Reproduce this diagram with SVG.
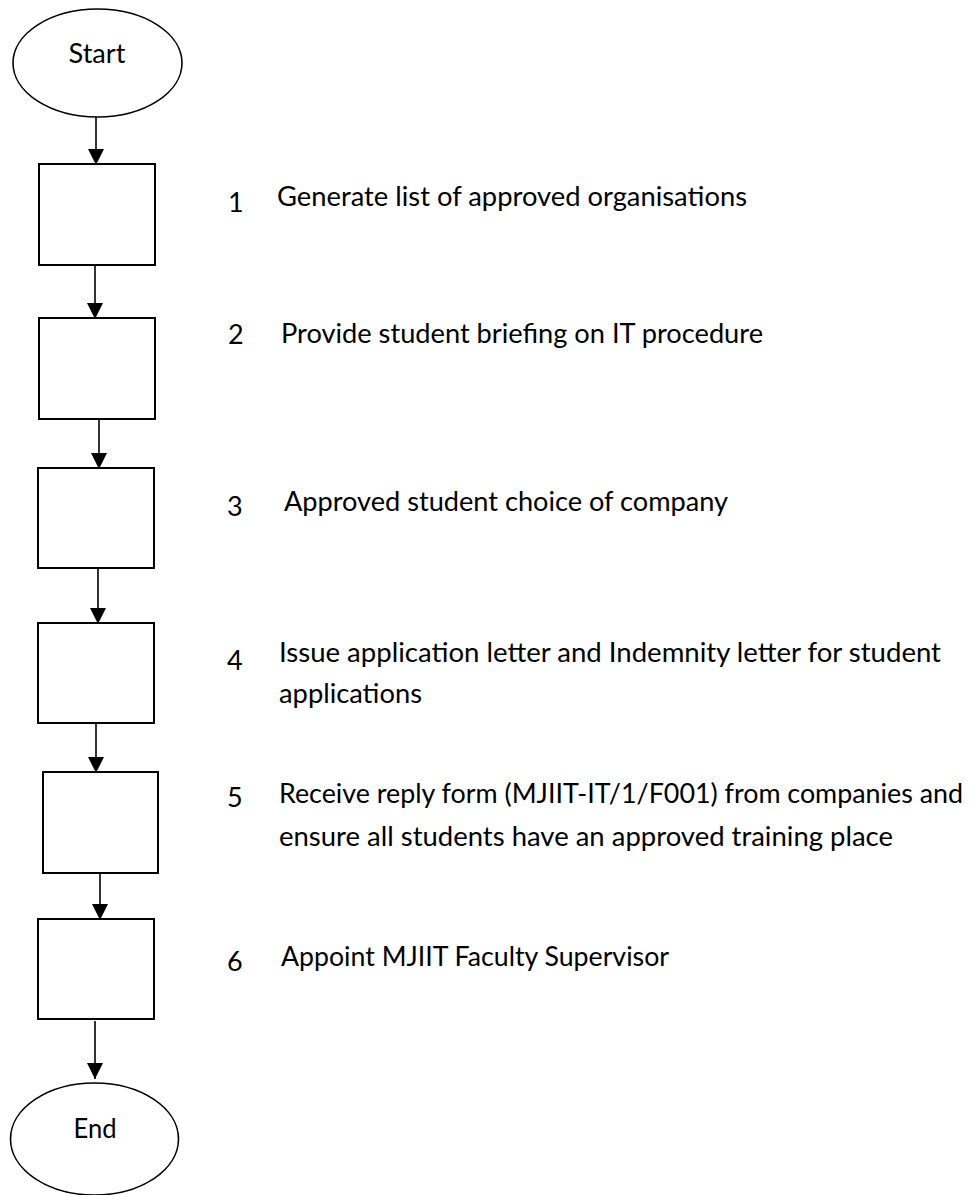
<svg xmlns="http://www.w3.org/2000/svg" width="972" height="1195" viewBox="0 0 972 1195">
<style>
.sh{fill:#fff;stroke:#000;stroke-width:2}
.el{fill:#fff;stroke:#000;stroke-width:1.6}
.ln{stroke:#000;stroke-width:1.6;fill:none}
text{font-family:Lato,"Open Sans","Liberation Sans",sans-serif;font-size:27px;fill:#000}
</style>
<defs>
<marker id="ah" markerUnits="userSpaceOnUse" markerWidth="16" markerHeight="16" viewBox="0 0 16 16" refX="16" refY="8" orient="auto">
<path d="M0,0 L16,8 L0,16 z" fill="#000"/>
</marker>
</defs>
<rect width="972" height="1195" fill="#fff"/>
<g id="connectors">
<line class="ln" x1="96" y1="115" x2="96" y2="165" marker-end="url(#ah)"/>
<line class="ln" x1="95" y1="266" x2="95" y2="319" marker-end="url(#ah)"/>
<line class="ln" x1="99" y1="415" x2="99" y2="469" marker-end="url(#ah)"/>
<line class="ln" x1="98" y1="568" x2="98" y2="624" marker-end="url(#ah)"/>
<line class="ln" x1="96" y1="719" x2="96" y2="773" marker-end="url(#ah)"/>
<line class="ln" x1="100" y1="870" x2="100" y2="920" marker-end="url(#ah)"/>
<line class="ln" x1="95" y1="1021" x2="95" y2="1079" marker-end="url(#ah)"/>
</g>
<g id="start">
<ellipse class="el" cx="97.5" cy="63" rx="84.5" ry="54"/>
<text x="97" y="63" text-anchor="middle" textLength="57" lengthAdjust="spacingAndGlyphs">Start</text>
</g>
<g id="step1">
<rect class="sh" x="39" y="164" width="116" height="101"/>
<text x="228" y="212">1</text>
<text x="277" y="206" textLength="470" lengthAdjust="spacingAndGlyphs">Generate list of approved organisations</text>
</g>
<g id="step2">
<rect class="sh" x="39" y="318" width="116" height="101"/>
<text x="228" y="344">2</text>
<text x="281" y="343" textLength="482" lengthAdjust="spacingAndGlyphs">Provide student briefing on IT procedure</text>
</g>
<g id="step3">
<rect class="sh" x="38" y="468" width="116" height="100"/>
<text x="227" y="516">3</text>
<text x="284" y="511" textLength="444" lengthAdjust="spacingAndGlyphs">Approved student choice of company</text>
</g>
<g id="step4">
<rect class="sh" x="38" y="623" width="116" height="100"/>
<text x="227" y="670">4</text>
<text x="279" y="662" textLength="662" lengthAdjust="spacingAndGlyphs">Issue application letter and Indemnity letter for student</text>
<text x="279" y="703" textLength="143" lengthAdjust="spacingAndGlyphs">applications</text>
</g>
<g id="step5">
<rect class="sh" x="43" y="772" width="115" height="101"/>
<text x="227" y="807">5</text>
<text x="279" y="803" textLength="684" lengthAdjust="spacingAndGlyphs">Receive reply form (MJIIT-IT/1/F001) from companies and</text>
<text x="279" y="846" textLength="614" lengthAdjust="spacingAndGlyphs">ensure all students have an approved training place</text>
</g>
<g id="step6">
<rect class="sh" x="38" y="919" width="116" height="100"/>
<text x="227" y="971">6</text>
<text x="281" y="966" textLength="388" lengthAdjust="spacingAndGlyphs">Appoint MJIIT Faculty Supervisor</text>
</g>
<g id="end">
<ellipse class="el" cx="94.5" cy="1139" rx="84" ry="56"/>
<text x="95" y="1138" text-anchor="middle" textLength="43" lengthAdjust="spacingAndGlyphs">End</text>
</g>
</svg>
